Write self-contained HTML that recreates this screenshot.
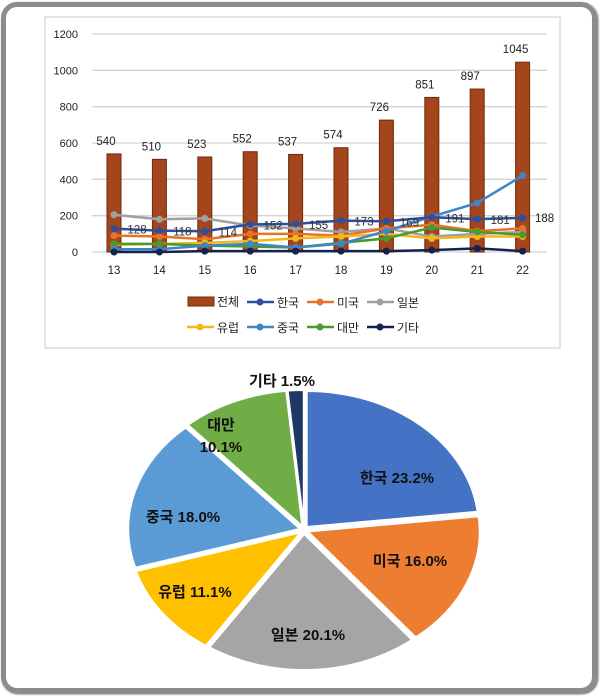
<!DOCTYPE html>
<html><head><meta charset="utf-8">
<style>
body{margin:0;width:600px;height:697px;background:#fff;overflow:hidden;font-family:"Liberation Sans","Noto Sans CJK KR",sans-serif}
#frame{position:absolute;left:1px;top:2px;width:586px;height:681px;border:5px solid #8c8c8c;border-radius:16px;box-shadow:1px 1px 2px #555}
</style></head><body>
<div id="frame"></div>
<svg id="s" width="600" height="697" style="position:absolute;left:0;top:0" font-family="Liberation Sans, Noto Sans CJK KR, sans-serif"></svg>
<script>
const s=document.getElementById('s');let h='';
h+='<rect x="45" y="17" width="515" height="331" fill="none" stroke="#c8c8c8" stroke-width="1"/>';
const y0=252,py=218/1200;const Y=v=>y0-v*py;const X=i=>114+i*45.4;
for(let v=0;v<=1200;v+=200){h+=`<line x1="92" x2="547" y1="${Y(v)}" y2="${Y(v)}" stroke="#d4d4d4" stroke-width="1.3"/>`;
h+=`<text x="78" y="${Y(v)+4}" font-size="11" text-anchor="end" fill="#222">${v}</text>`;}
const tot=[540,510,523,552,537,574,726,851,897,1045];
tot.forEach((v,i)=>{h+=`<rect x="${X(i)-7}" y="${Y(v)}" width="14" height="${v*py}" fill="#A4451B" stroke="#6e2a0c" stroke-width="1"/>`;
h+=`<text x="${X(i)-(i>=6?7:8)}" y="${Y(v)-9}" font-size="11.5" text-anchor="middle" fill="#222">${v}</text>`;
h+=`<text x="${X(i)}" y="274" font-size="11.5" text-anchor="middle" fill="#222">${13+i}</text>`;});
const ser=[
['#2E4E9E',[128,118,114,152,155,173,169,191,181,188]],
['#E8742A',[90,85,70,100,100,90,130,150,115,130]],
['#A0A0A0',[205,180,185,145,130,110,130,85,100,110]],
['#F2B81C',[40,45,50,60,75,85,100,75,85,85]],
['#3F86C8',[15,15,35,45,25,45,115,195,270,420]],
['#4A9A32',[45,45,35,30,25,50,75,135,110,95]],
['#14224E',[0,0,5,5,5,5,5,10,20,5]]];
[2,1,3,5,4,0,6].forEach(k=>{const [c,d]=ser[k];h+=`<polyline fill="none" stroke="${c}" stroke-width="2.5" points="${d.map((v,i)=>X(i)+','+Y(v)).join(' ')}"/>`;
d.forEach((v,i)=>h+=`<circle cx="${X(i)}" cy="${Y(v)}" r="3.5" fill="${c}"/>`);});
[128,118,114,152,155,173,169,191,181].forEach((v,i)=>h+=`<text x="${X(i)+23}" y="${Y(v)+5}" font-size="11.5" text-anchor="middle" fill="#333">${v}</text>`);
h+=`<text x="535" y="${Y(188)+4}" font-size="11.5" fill="#222">188</text>`;
// legend
h+='<rect x="188" y="297" width="26" height="9" fill="#A4451B" stroke="#6e2a0c"/><text x="217" y="306" font-size="12" fill="#222">전체</text>';
const lg=[[247,302,0,'한국'],[307,302,1,'미국'],[367,302,2,'일본'],[187,327,3,'유럽'],[247,327,4,'중국'],[307,327,5,'대만'],[367,327,6,'기타']];
lg.forEach(([x,y,k,t])=>{const c=ser[k][0];h+=`<line x1="${x}" x2="${x+27}" y1="${y}" y2="${y}" stroke="${c}" stroke-width="2.5"/><circle cx="${x+13}" cy="${y}" r="3.5" fill="${c}"/><text x="${x+30}" y="${y+5}" font-size="12" fill="#222">${t}</text>`;});
// pie
const cx=304,cy=530,rx=172,ry=136;
const p=[[23.2,'#4472C4'],[16.0,'#ED7D31'],[20.1,'#A5A5A5'],[11.1,'#FFC000'],[18.0,'#5B9BD5'],[10.1,'#70AD47'],[1.5,'#1F3864']];
let a=0;
p.forEach(([v,c])=>{const a1=a*2*Math.PI/100,a2=(a+v)*2*Math.PI/100,m=(a1+a2)/2;a+=v;
const ox=Math.sin(m)*4,oy=-Math.cos(m)*4;const pt=t=>[(cx+ox+rx*Math.sin(t)).toFixed(1),(cy+oy-ry*Math.cos(t)).toFixed(1)];
const [x1,y1]=pt(a1),[x2,y2]=pt(a2);
h+=`<path d="M${cx+ox},${cy+oy} L${x1},${y1} A${rx},${ry} 0 ${v>50?1:0} 1 ${x2},${y2} Z" fill="${c}" stroke="#fff" stroke-width="2"/>`;});
const L=[[397,483,'한국 23.2%'],[410,566,'미국 16.0%'],[308,640,'일본 20.1%'],[195,597,'유럽 11.1%'],[183,522,'중국 18.0%'],[221,430,'대만'],[221,452,'10.1%'],[282,386,'기타 1.5%']];
L.forEach(([x,y,t])=>h+=`<text x="${x}" y="${y}" font-size="15" font-weight="bold" text-anchor="middle" fill="#111">${t}</text>`);
s.innerHTML=h;
</script>
</body></html>
